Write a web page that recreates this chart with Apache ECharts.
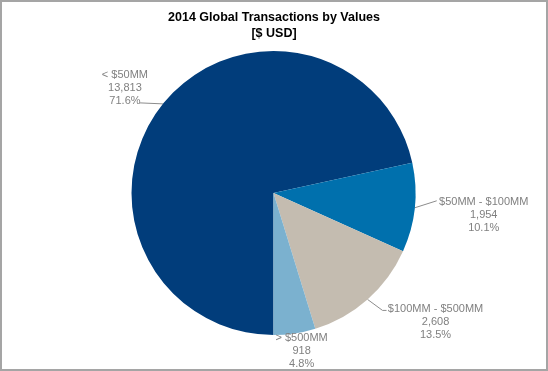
<!DOCTYPE html>
<html>
<head>
<meta charset="utf-8">
<script src="https://cdn.jsdelivr.net/npm/echarts@6/dist/echarts.min.js"></script>
<style>
  html, body { margin: 0; padding: 0; background: #fff; }
  #chart { width: 548px; height: 371px; box-sizing: border-box; border: 2px solid #a5a5a5; }
</style>
</head>
<body>
<div id="chart"></div>
<script>
const titleLines = ['2014 Global Transactions by Values', '[$ USD]'];
const categories = ['< $50MM', '$50MM - $100MM', '$100MM - $500MM', '> $500MM'];
const values = [13813, 1954, 2608, 918];
const colors = ['#013d7b', '#0070ad', '#c4bcb0', '#7bb1cf'];

// label placement relative to the slice's own label anchor (layout only)
const labelOffsets = [[-38, -16], [69, 7], [68, 23], [7, 18]];
const lineBends = [[[-23, -1]], [[22, -7]], [[15, 11], [19, 11]], [[0, 0]]];
const showLine = [true, true, true, false];

const chart = echarts.init(document.getElementById('chart'));
chart.setOption({
  animation: false,
  title: {
    text: titleLines.join('\n'),
    left: 'center',
    top: 3,
    textStyle: { fontFamily: 'Liberation Sans', fontWeight: 'bold', fontSize: 12.5, color: '#000', lineHeight: 16 }
  },
  series: [{
    type: 'pie',
    center: [271.5, 191],
    radius: 142,
    startAngle: -90,
    clockwise: true,
    percentPrecision: 1,
    avoidLabelOverlap: false,
    itemStyle: { borderWidth: 0 },
    emphasis: { disabled: true },
    data: categories.map((c, i) => ({
      name: c, value: values[i],
      itemStyle: { color: colors[i] },
      labelLine: { show: showLine[i] }
    })),
    label: {
      show: true,
      position: 'outside',
      formatter: p => '{a|' + p.name + '}\n{a|' + p.value.toLocaleString('en-US') + '}\n{a|' + p.percent.toFixed(1) + '%}',
      rich: {
        a: { align: 'center', fontFamily: 'Liberation Sans', fontSize: 11, color: '#808080', lineHeight: 13 }
      }
    },
    labelLine: { show: true, length: 8, length2: 8, lineStyle: { color: '#8c8c8c', width: 1 } },
    labelLayout: function (params) {
      const i = params.dataIndex;
      const p0 = params.labelLinePoints ? params.labelLinePoints[0] : [0, 0];
      const off = labelOffsets[i];
      const pts = [[p0[0], p0[1]]].concat(lineBends[i].map(b => [p0[0] + b[0], p0[1] + b[1]]));
      return {
        x: p0[0] + off[0],
        y: p0[1] + off[1],
        align: 'center',
        verticalAlign: 'middle',
        labelLinePoints: pts
      };
    }
  }]
});
</script>
</body>
</html>
